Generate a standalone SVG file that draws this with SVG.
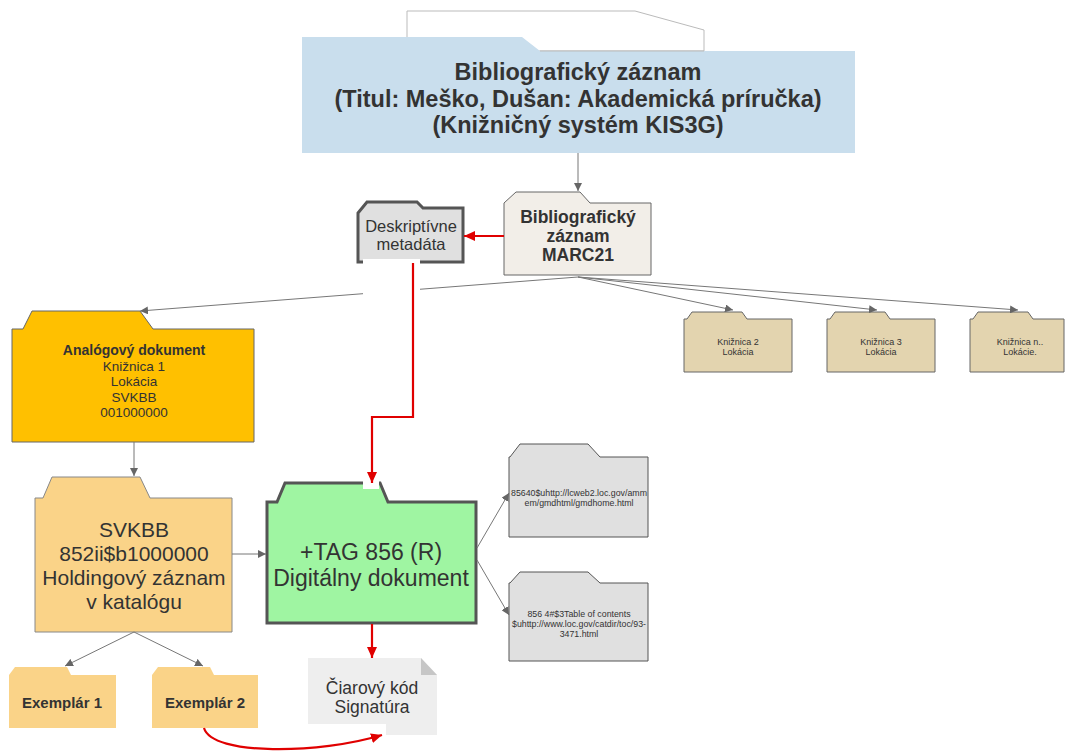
<svg xmlns="http://www.w3.org/2000/svg" width="1066" height="753" viewBox="0 0 1066 753">
<defs>
<style>
text{font-family:"Liberation Sans",Arial,sans-serif;fill:#333;text-anchor:middle}
.b{font-weight:bold}
.g{stroke:#777;stroke-width:1;fill:none}
.r{stroke:#e00000;stroke-width:2.2;fill:none}
.thin{stroke:#666;stroke-width:1}
.thick{stroke:#555;stroke-width:3}
</style>
<marker id="ga" markerUnits="userSpaceOnUse" markerWidth="10" markerHeight="8" refX="8" refY="4" orient="auto"><path d="M0,0 L8,4 L0,8 Z" fill="#666"/></marker>
<marker id="ra" markerUnits="userSpaceOnUse" markerWidth="12" markerHeight="10" refX="11" refY="5" orient="auto"><path d="M0,0 L11,5 L0,10 Z" fill="#e00000"/></marker>
</defs>
<rect width="1066" height="753" fill="#fff"/>

<g id="top">
<polygon points="407,51 407,11 635,11 704,30 704,51" fill="#fff" stroke="#bbb" stroke-width="1"/>
<polygon points="302,37 522,37 540,51 855,51 855,153 302,153" fill="#c9deed"/>
<line x1="540" y1="51" x2="704" y2="51" stroke="#bbb"/>
<text class="b" x="578" y="80" font-size="23.5" fill="#111">Bibliografický záznam</text>
<text class="b" x="578" y="107" font-size="23.5" fill="#111">(Titul: Meško, Dušan: Akademická príručka)</text>
<text class="b" x="578" y="133" font-size="23.5" fill="#111">(Knižničný systém KIS3G)</text>
</g>

<g id="marc21">
<polygon points="504,203 516,192 580,192 590,203 651,203 651,275 504,275" fill="#f2eee8" class="thin"/>
<text class="b" x="578" y="223" font-size="17.5">Bibliografický</text>
<text class="b" x="578" y="242" font-size="17.5">záznam</text>
<text class="b" x="578" y="261" font-size="17.5">MARC21</text>
</g>

<g id="deskriptivne">
<polygon points="358,213 367,202 417,202 423,208 463,208 463,262 358,262" fill="#e0e0e0" class="thick"/>
<text x="411" y="232" font-size="16.5">Deskriptívne</text>
<text x="411" y="250" font-size="16.5">metadáta</text>
</g>

<g id="analogovy">
<polygon points="12,329 23,329 32,311 140,311 153,329 254,329 254,442 12,442" fill="#ffc000" class="thin"/>
<text class="b" x="134" y="355" font-size="14">Analógový dokument</text>
<text x="134" y="371" font-size="13.5">Knižnica 1</text>
<text x="134" y="386" font-size="13.5">Lokácia</text>
<text x="134" y="402" font-size="13.5">SVKBB</text>
<text x="134" y="417" font-size="13.5">001000000</text>
</g>

<g id="kniznica2">
<polygon points="684,319 687,319 692,312 742,312 747,319 792,319 792,372 684,372" fill="#e3d4af" class="thin"/>
<text x="738" y="345" font-size="9">Knižnica 2</text>
<text x="738" y="355" font-size="9">Lokácia</text>
</g>
<g id="kniznica3">
<polygon points="827,319 830,319 835,312 885,312 890,319 935,319 935,372 827,372" fill="#e3d4af" class="thin"/>
<text x="881" y="345" font-size="9">Knižnica 3</text>
<text x="881" y="355" font-size="9">Lokácia</text>
</g>
<g id="kniznican">
<polygon points="970,319 973,319 978,312 1028,312 1033,319 1064,319 1064,372 970,372" fill="#e3d4af" class="thin"/>
<text x="1020" y="345" font-size="9">Knižnica n..</text>
<text x="1020" y="355" font-size="9">Lokácie.</text>
</g>

<g id="holding">
<polygon points="35,498 43,498 52,477 140,477 150,498 232,498 232,632 35,632" fill="#fad388" stroke="#888" stroke-width="1"/>
<text x="134" y="537" font-size="21">SVKBB</text>
<text x="134" y="561" font-size="21">852ii$b1000000</text>
<text x="134" y="585" font-size="21">Holdingový záznam</text>
<text x="134" y="609" font-size="21">v katalógu</text>
</g>

<g id="tag856">
<polygon points="267,502 277,502 285,483 380,483 388,502 476,502 476,623 267,623" fill="#9ff5a2" class="thick"/>
<text x="371" y="560" font-size="23">+TAG 856 (R)</text>
<text x="371" y="586" font-size="23">Digitálny dokument</text>
</g>

<g id="url1">
<polygon points="509,457 510,457 520,444 588,444 600,457 648,457 648,537 509,537" fill="#e0e0e0" stroke="#555" stroke-width="1"/>
<text x="579" y="496" font-size="8.8">85640$uhttp://lcweb2.loc.gov/amm</text>
<text x="579" y="506" font-size="8.8">em/gmdhtml/gmdhome.html</text>
</g>

<g id="url2">
<polygon points="509,583 510,583 520,572 588,572 600,583 648,583 648,661 509,661" fill="#e0e0e0" stroke="#555" stroke-width="1"/>
<text x="579" y="617" font-size="8.8">856 4#$3Table of contents</text>
<text x="579" y="627" font-size="8.8">$uhttp://www.loc.gov/catdir/toc/93-</text>
<text x="579" y="637" font-size="8.8">3471.html</text>
</g>

<g id="exemplar1">
<polygon points="9,675 15,667 67,667 71,675 116,675 116,728 9,728" fill="#fad388"/>
<text class="b" x="62" y="708" font-size="15">Exemplár 1</text>
</g>
<g id="exemplar2">
<polygon points="152,675 158,667 210,667 214,675 258,675 258,728 152,728" fill="#fad388"/>
<text class="b" x="205" y="708" font-size="15">Exemplár 2</text>
</g>

<g id="ciarovy">
<polygon points="308,658 421,658 437,675 437,735 386,735 386,724 308,724" fill="#eeeeee"/>
<polygon points="421,658 437,675 421,675" fill="#c6c6c6"/>
<text x="372" y="694" font-size="17.5">Čiarový kód</text>
<text x="372" y="713" font-size="17.5">Signatúra</text>
</g>

<g id="connectors">
<path class="g" d="M578,153 L578,191" marker-end="url(#ga)"/>
<path class="g" d="M578,277 L140,311" marker-end="url(#ga)"/>
<path class="g" d="M578,277 L733,310" marker-end="url(#ga)"/>
<path class="g" d="M578,277 L877,310" marker-end="url(#ga)"/>
<path class="g" d="M578,277 L1018,310" marker-end="url(#ga)"/>
<path class="g" d="M134,442 L134,476" marker-end="url(#ga)"/>
<path class="g" d="M232,554 L266,554" marker-end="url(#ga)"/>
<path class="g" d="M134,632 L65,666" marker-end="url(#ga)"/>
<path class="g" d="M134,632 L203,666" marker-end="url(#ga)"/>
<path class="g" d="M477,548 L509,493" marker-end="url(#ga)"/>
<path class="g" d="M477,560 L509,615" marker-end="url(#ga)"/>
<rect x="363" y="259" width="57" height="40" fill="#fff"/>
<rect x="363" y="477" width="16" height="12" fill="#fff"/>
<path class="r" d="M504,236 L464,236" marker-end="url(#ra)"/>
<path class="r" d="M413,263 L413,417 L372,417 L372,483" marker-end="url(#ra)"/>
<path class="r" d="M372,624 L372,658" marker-end="url(#ra)"/>
<path class="r" d="M204,728 C212,756 320,754 382,735" marker-end="url(#ra)"/>
</g>
</svg>
